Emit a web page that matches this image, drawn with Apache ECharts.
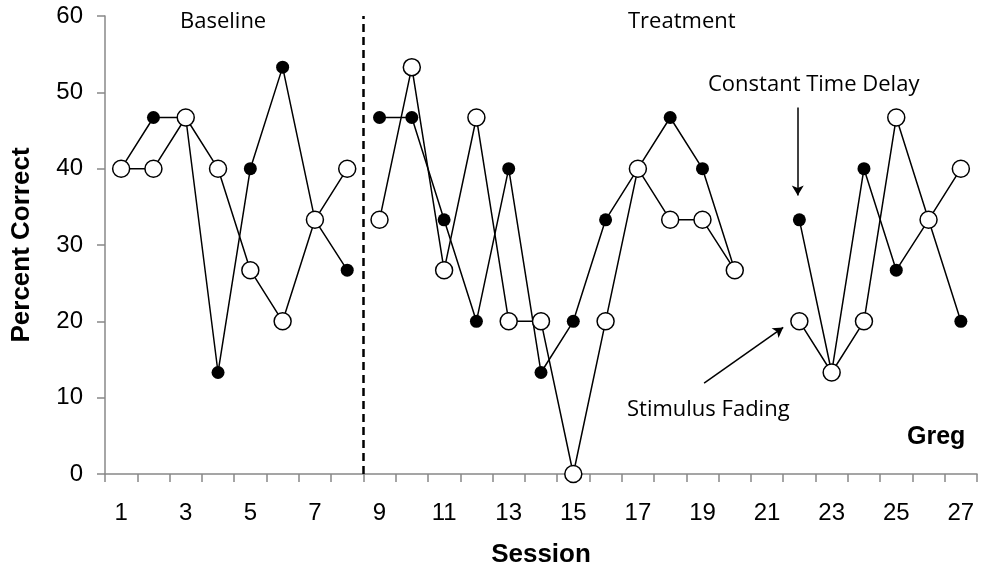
<!DOCTYPE html>
<html>
<head>
<meta charset="utf-8">
<script src="https://cdn.jsdelivr.net/npm/echarts@6/dist/echarts.min.js"></script>
<style>
html,body{margin:0;padding:0;background:#fff;}
#main{width:984px;height:575px;}
</style>
</head>
<body>
<div id="main"></div>
<script>
var sessions = ['1','2','3','4','5','6','7','8','9','10','11','12','13','14','15','16','17','18','19','20','21','22','23','24','25','26','27'];

// constant time delay (filled), stimulus fading (open)
var ctdBaseline  = [40, 46.7, 46.7, 13.3, 40, 53.3, 33.3, 26.7];
var ctdTreatment = [46.7, 46.7, 33.3, 20, 40, 13.3, 20, 33.3, 40, 46.7, 40, 26.7, null, 33.3, 13.3, 40, 26.7, 33.3, 20];
var sfBaseline   = [40, 40, 46.7, 40, 26.7, 20, 33.3, 40];
var sfTreatment  = [33.3, 53.3, 26.7, 46.7, 20, 20, 0, 20, 40, 33.3, 33.3, 26.7, null, 20, 13.3, 20, 46.7, 33.3, 40];

var phaseChange = 8.5;

function pad(before, arr, len) {
    var out = [];
    for (var i = 0; i < before; i++) out.push(null);
    out = out.concat(arr);
    while (out.length < len) out.push(null);
    return out;
}

var n = sessions.length;
var myChart = echarts.init(document.getElementById('main'));

function lineSeries(data, filled) {
    return {
        type: 'line',
        data: data,
        symbol: 'circle',
        symbolSize: filled ? 13 : 17,
        connectNulls: false,
        lineStyle: {color: '#000', width: 1.5},
        itemStyle: {
            color: filled ? '#000' : '#fff',
            borderColor: '#000',
            borderWidth: filled ? 0 : 1.5
        },
        z: filled ? 2 : 3,
        animation: false
    };
}

var labelFont = {fontFamily: 'Liberation Sans', fontSize: 24, color: '#000'};
var titleFont = {fontFamily: 'Liberation Sans', fontSize: 26, fontWeight: 'bold', color: '#000'};

var option = {
    animation: false,
    grid: {left: 105, right: 7, top: 16, bottom: 101},
    xAxis: [
        {
            type: 'category',
            data: sessions,
            boundaryGap: true,
            name: 'Session',
            nameLocation: 'middle',
            nameGap: 68,
            nameTextStyle: titleFont,
            axisLine: {lineStyle: {color: '#888', width: 1.5}},
            axisTick: {show: true, interval: 0, length: 8, lineStyle: {color: '#888', width: 1.5}},
            axisLabel: Object.assign({interval: 1, margin: 27}, labelFont),
            splitLine: {show: false}
        },
        {
            type: 'value',
            min: 0.5,
            max: 27.5,
            show: false
        }
    ],
    yAxis: {
        type: 'value',
        min: 0,
        max: 60,
        interval: 10,
        name: 'Percent Correct',
        nameLocation: 'middle',
        nameGap: 70,
        nameTextStyle: titleFont,
        axisLine: {show: true, lineStyle: {color: '#888', width: 1.5}},
        axisTick: {show: true, length: 8, lineStyle: {color: '#888', width: 1.5}},
        axisLabel: Object.assign({margin: 22}, labelFont),
        splitLine: {show: false}
    },
    series: [
        lineSeries(pad(0, ctdBaseline, n), true),
        lineSeries(pad(8, ctdTreatment, n), true),
        lineSeries(pad(0, sfBaseline, n), false),
        lineSeries(pad(8, sfTreatment, n), false),
        {
            // phase change line
            type: 'line',
            xAxisIndex: 1,
            data: [],
            markLine: {
                silent: true,
                symbol: 'none',
                label: {show: false},
                animation: false,
                lineStyle: {type: [8, 5], color: '#000', width: 2.5},
                data: [{xAxis: phaseChange}]
            }
        },
        {
            // annotation arrows
            type: 'line',
            xAxisIndex: 1,
            data: [],
            markLine: {
                silent: true,
                symbol: ['none', 'arrow'],
                symbolSize: [9, 10],
                label: {show: false},
                animation: false,
                lineStyle: {type: 'solid', color: '#000', width: 1.5},
                data: [
                    [{coord: [21.95, 48]}, {coord: [21.95, 36.5]}],
                    [{coord: [19.05, 11.9]}, {coord: [21.5, 19.2]}]
                ]
            }
        }
    ],
    graphic: [
        {type: 'text', left: 180, top: 11, style: {text: 'Baseline', font: '22px "Open Sans"', fill: '#000'}},
        {type: 'text', left: 628, top: 11, style: {text: 'Treatment', font: '22px "Open Sans"', fill: '#000'}},
        {type: 'text', left: 708, top: 74, style: {text: 'Constant Time Delay', font: '22px "Open Sans"', fill: '#000'}},
        {type: 'text', left: 627, top: 399, style: {text: 'Stimulus Fading', font: '22px "Open Sans"', fill: '#000'}},
        {type: 'text', left: 907, top: 425, style: {text: 'Greg', font: 'bold 25px "Liberation Sans"', fill: '#000'}}
    ]
};
myChart.setOption(option);
</script>
</body>
</html>
